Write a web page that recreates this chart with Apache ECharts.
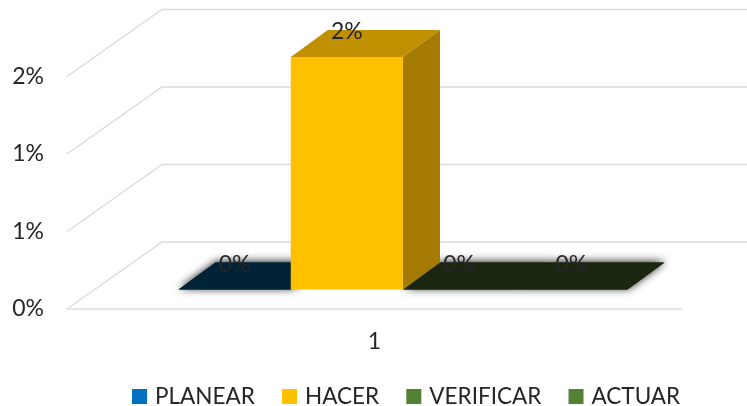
<!DOCTYPE html>
<html>
<head>
<meta charset="utf-8">
<title>PHVA</title>
<script src="https://cdn.jsdelivr.net/npm/echarts@6/dist/echarts.min.js"></script>
<style>
	html, body { margin: 0; padding: 0; background: #fff; }
	#main { width: 747px; height: 406px; }
</style>
</head>
<body>
<div id="main"></div>
<script>
	// datos
	var categories = ['1'];
	var planear = [0];
	var hacer = [1.5];
	var verificar = [0];
	var actuar = [0];
	var tickValues = [0, 0.5, 1, 1.5];
	var tickLabels = ['0%', '1%', '1%', '2%'];
	var seriesNames = ['PLANEAR', 'HACER', 'VERIFICAR', 'ACTUAR'];

	var fontName = 'Lato';
	var chart = echarts.init(document.getElementById('main'));

	// profundidad del piso y de las barras (efecto 3D)
	var wallDx = 95, wallDy = -67;
	var barDx = 37, barDy = -27;
	var floorDx = 28.5, floorDy = -19.5;

	// lineas de la pared: diagonal izquierda y horizontal del fondo
	function renderWall(params, api) {
		var p = api.coord([0, api.value(0)]);
		var left = params.coordSys.x;
		return {
			type: 'polyline',
			silent: true,
			shape: { points: [[left, p[1]], [left + wallDx, p[1] + wallDy], [left + wallDx + 700, p[1] + wallDy]] },
			style: { fill: null, stroke: '#dcdcdc', lineWidth: 1.5 }
		};
	}

	function makeBar(name, values, index, front, top, side, legendColor, z) {
		return {
			name: name,
			type: 'custom',
			z: z,
			clip: false,
			itemStyle: { color: legendColor },
			data: values.map(function (v, i) { return [i, v]; }),
			renderItem: function (params, api) {
				var band = api.size([1, 0])[0];
				var w = band * 0.1825;
				var base = api.coord([api.value(0), 0]);
				var tip = api.coord([api.value(0), api.value(1)]);
				var x0 = base[0] - 2 * w + index * w + floorDx;
				var x1 = x0 + w;
				var yb = base[1] + floorDy;
				var yt = tip[1] + floorDy;
				var flat = api.value(1) === 0;
				var topPoints = [[x0, yt], [x1, yt], [x1 + barDx, yt + barDy], [x0 + barDx, yt + barDy]];
				var children = [];
				if (flat) {
					// sombra difusa por debajo de todas las caras planas
					children.push({
						type: 'polygon',
						z2: 0,
						shape: { points: topPoints },
						style: { fill: top, shadowBlur: 9, shadowColor: 'rgba(0,0,0,0.9)', shadowOffsetX: 1, shadowOffsetY: -1 }
					});
				}
				children.push({
					type: 'polygon',
					z2: 10,
					shape: { points: topPoints },
					style: { fill: top }
				});
				if (!flat) {
					children.push({
						type: 'polygon',
						z2: 10,
						shape: { points: [[x1, yb], [x1 + barDx, yb + barDy], [x1 + barDx, yt + barDy], [x1, yt]] },
						style: { fill: side }
					});
					children.push({
						type: 'rect',
						z2: 10,
						shape: { x: x0, y: yt, width: w, height: yb - yt },
						style: { fill: front }
					});
				}
				children.push({
					type: 'text',
					z2: 50,
					style: {
						x: (x0 + x1) / 2,
						y: yt - 25,
						text: Math.round(api.value(1)) + '%',
						align: 'center',
						verticalAlign: 'middle',
						fill: '#262626',
						font: '23px ' + fontName
					}
				});
				return { type: 'group', children: children };
			}
		};
	}

	var option = {
		backgroundColor: '#fff',
		animation: false,
		grid: { left: 67, right: 65, top: 76.5, bottom: 97 },
		legend: {
			left: 127,
			top: 380,
			icon: 'rect',
			itemWidth: 15,
			itemHeight: 15,
			itemGap: 27.2,
			data: seriesNames,
			textStyle: { fontFamily: fontName, fontSize: 22.5, color: '#262626', padding: [0, 0, 0, 3] }
		},
		xAxis: {
			type: 'category',
			data: categories,
			axisTick: { show: false },
			axisLine: { lineStyle: { color: '#dcdcdc', width: 1.5 } },
			axisLabel: { margin: 21, fontFamily: fontName, fontSize: 23, color: '#262626' }
		},
		yAxis: {
			type: 'value',
			min: 0,
			max: 1.5,
			interval: 0.5,
			splitLine: { show: false },
			axisLine: { show: false },
			axisTick: { show: false },
			axisLabel: {
				margin: 23,
				fontFamily: fontName,
				fontSize: 23,
				color: '#262626',
				padding: [3, 0, 0, 0],
				formatter: function (v) { return tickLabels[tickValues.indexOf(v)]; }
			}
		},
		series: [
			{
				type: 'custom',
				z: 1,
				clip: false,
				silent: true,
				encode: { y: 0 },
				data: tickValues.map(function (v) { return [v]; }),
				renderItem: renderWall
			},
			makeBar(seriesNames[0], planear, 0, '#0070C0', '#002337', '#003a63', '#0070C0', 2),
			makeBar(seriesNames[1], hacer, 1, '#FFC000', '#C09000', '#A47B00', '#FFC000', 4),
			makeBar(seriesNames[2], verificar, 2, '#548235', '#1B2610', '#2f4a1e', '#548235', 3),
			makeBar(seriesNames[3], actuar, 3, '#548235', '#1B2610', '#2f4a1e', '#548235', 3)
		]
	};

	chart.setOption(option);
</script>
</body>
</html>
